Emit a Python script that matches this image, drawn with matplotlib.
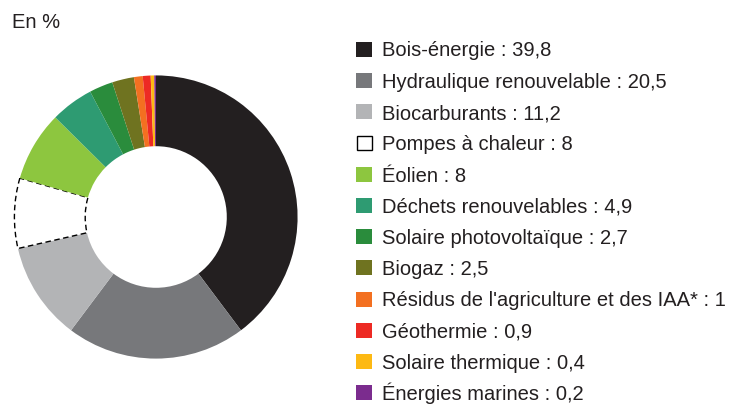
import matplotlib.pyplot as plt
from matplotlib.patches import Rectangle

plt.rcParams['font.family'] = ['Liberation Sans', 'DejaVu Sans']

# parts of renewable energy, in %
labels = ["Bois-énergie", "Hydraulique renouvelable", "Biocarburants",
          "Pompes à chaleur", "Éolien", "Déchets renouvelables",
          "Solaire photovoltaïque", "Biogaz",
          "Résidus de l'agriculture et des IAA*", "Géothermie",
          "Solaire thermique", "Énergies marines"]
values = [39.8, 20.5, 11.2, 8, 8, 4.9, 2.7, 2.5, 1, 0.9, 0.4, 0.2]
value_text = ["39,8", "20,5", "11,2", "8", "8", "4,9", "2,7", "2,5",
              "1", "0,9", "0,4", "0,2"]
colors = ["#231f20", "#77787b", "#b3b4b6", "#ffffff", "#8dc63f",
          "#2e9b72", "#2a8c3c", "#6f7320", "#f37021", "#ed2a24",
          "#fdb913", "#7b2c8e"]

W, H = 734, 405
fig = plt.figure(figsize=(W / 100, H / 100), dpi=100)

# donut
ax = fig.add_axes([13 / W, 45 / H, 286 / W, 286 / H])
wedges, _ = ax.pie(values, colors=colors, startangle=90, counterclock=False,
                   radius=1, wedgeprops=dict(width=0.5, linewidth=0))
pac = wedges[3]
pac.set_edgecolor("black")
pac.set_linewidth(1)
pac.set_linestyle((0, (4, 2.5)))
ax.set_xlim(-1.01, 1.01)
ax.set_ylim(-1.01, 1.01)
ax.set_aspect("equal")

fig.text(12 / W, 1 - 28.5 / H, "En %", fontsize=14.5, va="baseline",
         ha="left", color="#231f20")

# legend, drawn row by row (pixel layout from the top)
base0, pitch = 56.5, 31.25
for i, (lab, val, c) in enumerate(zip(labels, value_text, colors)):
    base = base0 + i * pitch
    if c == "#ffffff":
        sq = Rectangle((356.5 / W, 1 - (base - 0.5) / H), 15 / W, 14 / H,
                       transform=fig.transFigure, facecolor="white",
                       edgecolor="black", linewidth=1)
    else:
        sq = Rectangle((356 / W, 1 - base / H), 16 / W, 15 / H,
                       transform=fig.transFigure, facecolor=c,
                       edgecolor="none")
    fig.add_artist(sq)
    fig.text(382 / W, 1 - base / H, f"{lab} : {val}", fontsize=14.5,
             va="baseline", ha="left", color="#231f20")

fig.savefig("out.png", dpi=100)
